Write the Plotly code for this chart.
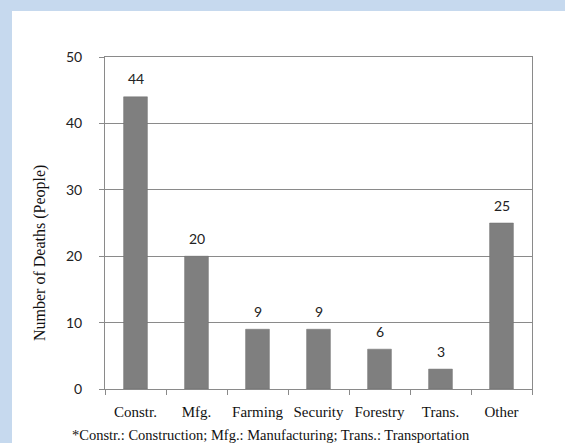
import plotly.graph_objects as go

# Fatalities by industry
categories = ["Constr.", "Mfg.", "Farming", "Security", "Forestry", "Trans.", "Other"]
deaths = [44, 20, 9, 9, 6, 3, 25]
y_ticks = [0, 10, 20, 30, 40, 50]
y_title = "Number of Deaths (People)"
footnote = "*Constr.: Construction; Mfg.: Manufacturing; Trans.: Transportation"

W, H = 565, 443
ML, MR, MT, MB = 105, 33, 57, 54
pw, ph = W - ML - MR, H - MT - MB

def px_to_paper_x(px):
    return (px - ML) / pw

def px_to_paper_y(py):
    return (H - MB - py) / ph

SERIF = "Liberation Serif"
SANS = "Lato"
LINE = "#8a8a8a"

fig = go.Figure(
    go.Bar(
        x=categories,
        y=deaths,
        marker=dict(color="#7f7f7f", line=dict(color="#6e6e6e", width=0.5)),
        width=0.39,
        hoverinfo="x+y",
    )
)

# value labels above bars
for c, v in zip(categories, deaths):
    fig.add_annotation(
        x=c, y=v, text=str(v), showarrow=False,
        yanchor="middle", yshift=18,
        font=dict(family=SANS, size=14, color="#222"),
    )

# y-axis title
fig.add_annotation(
    xref="paper", yref="paper",
    x=px_to_paper_x(40), y=px_to_paper_y(253),
    text=y_title, textangle=-90, showarrow=False,
    xanchor="center", yanchor="middle",
    font=dict(family=SERIF, size=16, color="#111"),
)

# footnote
fig.add_annotation(
    xref="paper", yref="paper",
    x=px_to_paper_x(70), y=px_to_paper_y(435),
    text=footnote, showarrow=False,
    xanchor="left", yanchor="middle",
    font=dict(family=SERIF, size=14.5, color="#111"),
)

# white panel over the light-blue frame
fig.add_shape(
    type="rect", xref="paper", yref="paper", layer="below",
    x0=px_to_paper_x(12), x1=px_to_paper_x(W + 5),
    y0=px_to_paper_y(H + 5), y1=px_to_paper_y(11),
    fillcolor="white", line=dict(width=0),
)

fig.update_layout(
    width=W, height=H,
    margin=dict(l=ML, r=MR, t=MT, b=MB),
    paper_bgcolor="#c6d9ee",
    plot_bgcolor="white",
    showlegend=False,
    bargap=0.61,
)

fig.update_xaxes(
    type="category",
    showline=True, linecolor=LINE, linewidth=1, mirror=True,
    showgrid=False,
    ticks="outside", tickson="boundaries", ticklen=5, tickcolor=LINE,
    tickfont=dict(family=SERIF, size=15, color="#111"),
    ticklabelstandoff=9,
)

fig.update_yaxes(
    range=[0, 50],
    tickvals=y_ticks,
    showline=True, linecolor=LINE, linewidth=1, mirror=True,
    showgrid=True, gridcolor=LINE, gridwidth=1,
    ticks="outside", ticklen=5, tickcolor=LINE,
    tickfont=dict(family=SANS, size=14, color="#222"),
    ticklabelstandoff=14,
    zeroline=False,
)

fig.write_html("out.html")
